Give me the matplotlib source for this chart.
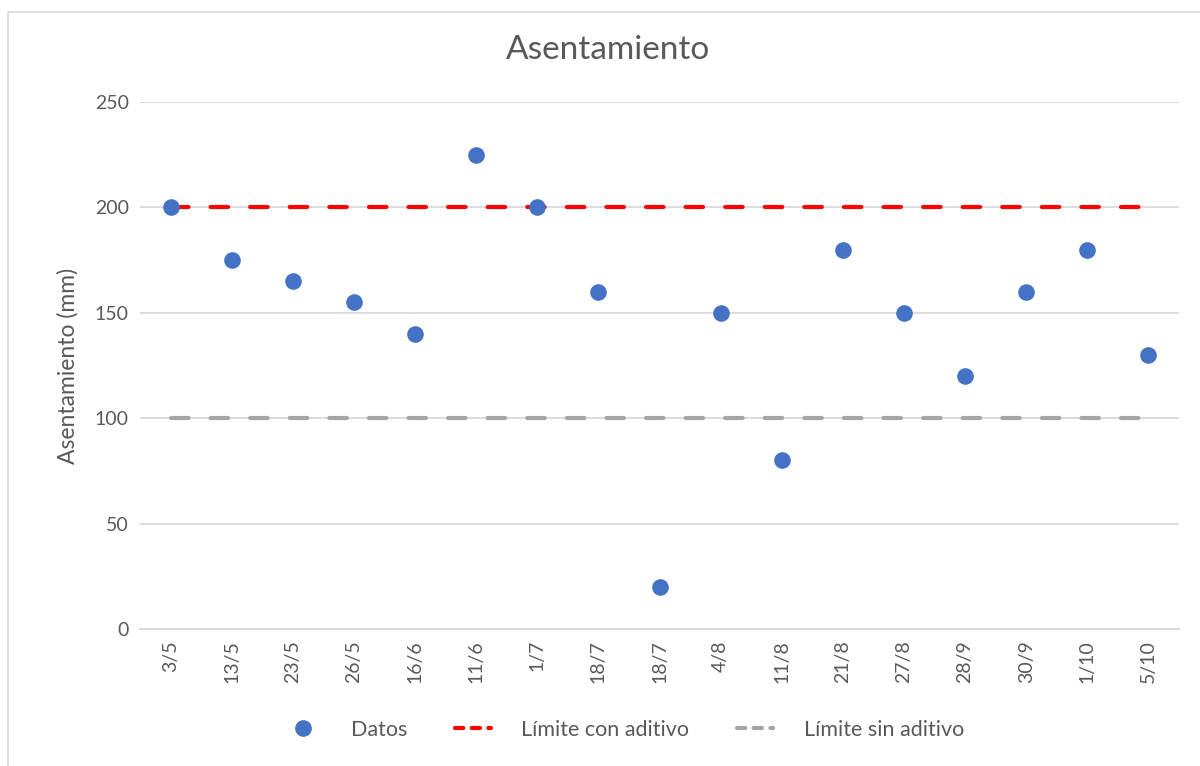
import matplotlib.pyplot as plt
import numpy as np
from matplotlib.patches import Rectangle
from matplotlib.lines import Line2D

plt.rcParams['font.family'] = ['Lato', 'DejaVu Sans']

fechas = ['3/5', '13/5', '23/5', '26/5', '16/6', '11/6', '1/7', '18/7', '18/7',
          '4/8', '11/8', '21/8', '27/8', '28/9', '30/9', '1/10', '5/10']
asentamiento = [200, 175, 165, 155, 140, 225, 200, 160, 20,
                150, 80, 180, 150, 120, 160, 180, 130]
limite_con = [200] * len(fechas)
limite_sin = [100] * len(fechas)

gris = '#595959'
fig = plt.figure(figsize=(12, 7.66), dpi=100)
ax = fig.add_axes([140 / 1200, 1 - 629 / 766, 1039 / 1200, (629 - 102) / 766])

# chart frame
fig.patches.append(Rectangle((8 / 1200, -0.1), 1.2, 1 - 12 / 766 + 0.1,
                             transform=fig.transFigure, fill=False,
                             edgecolor='#d9d9d9', lw=1.2))

x = np.arange(len(fechas))
ax.plot(x, limite_sin, color='#a5a5a5', lw=3, dashes=(4.2, 5.3),
        dash_capstyle='round', zorder=2, label='Límite sin aditivo')
ax.plot(x, limite_con, color='#ff0000', lw=3, dashes=(4.2, 5.3),
        dash_capstyle='round', zorder=2, label='Límite con aditivo')
ax.scatter(x, asentamiento, s=120, color='#4472c4', zorder=3, label='Datos')

ax.set_xlim(-0.5, len(fechas) - 0.5)
ax.set_ylim(0, 250)
ax.set_yticks(np.arange(0, 251, 50))
ax.set_xticks(x)
ax.set_xticklabels(fechas, rotation=90)
ax.tick_params(length=0, labelsize=14, colors=gris, pad=8)
ax.grid(axis='y', color='#d9d9d9', lw=1.3, zorder=0)
ax.set_axisbelow(True)
for s in ['top', 'right', 'left']:
    ax.spines[s].set_visible(False)
ax.spines['bottom'].set_color('#d9d9d9')
ax.spines['bottom'].set_linewidth(1.3)

ax.set_ylabel('Asentamiento (mm)', fontsize=16.5, color=gris, labelpad=12)
fig.text(0.507, 1 - 50 / 766, 'Asentamiento', fontsize=24, color=gris,
         ha='center', va='center')

handles = [
    Line2D([], [], marker='o', ls='none', color='#4472c4', markersize=11),
    Line2D([], [], color='#ff0000', lw=3, dashes=(2.0, 2.0), dash_capstyle='round'),
    Line2D([], [], color='#a5a5a5', lw=3, dashes=(2.0, 2.0), dash_capstyle='round'),
]
fig.legend(handles, ['Datos', 'Límite con aditivo', 'Límite sin aditivo'],
           loc='center', bbox_to_anchor=(0.52, 1 - 730 / 766), ncol=3,
           frameon=False, fontsize=15.5, labelcolor=gris, handlelength=1.7,
           columnspacing=2.2, handletextpad=1.4)

fig.savefig('out.png', dpi=100)
